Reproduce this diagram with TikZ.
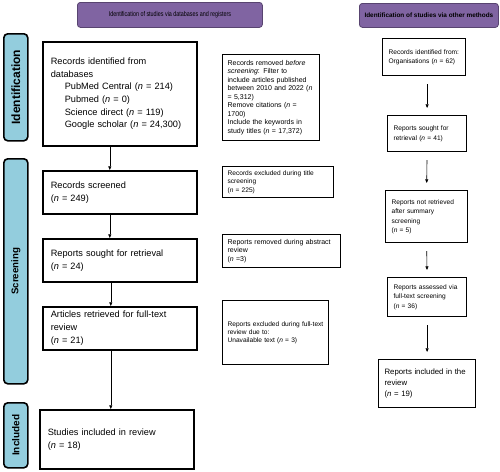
\documentclass[tikz,border=0pt]{standalone}
\usepackage{fontspec}
\setmainfont{Liberation Sans}
\usetikzlibrary{arrows.meta}

\definecolor{headpurple}{RGB}{128,100,162}
\definecolor{headedge}{RGB}{88,68,112}
\definecolor{stageblue}{RGB}{147,205,221}

\begin{document}
\begin{tikzpicture}[x=1pt,y=-1pt,
    header/.style={draw=headedge,line width=0.8pt,fill=headpurple,rounded corners=3pt,anchor=north west,inner sep=0pt},
    stage/.style={draw,line width=1.6pt,fill=stageblue,rounded corners=4pt,anchor=north west,inner sep=0pt,minimum width=24pt},
    mainbox/.style={draw,line width=1.6pt,anchor=north west,align=left,inner ysep=0pt,inner xsep=8pt,font=\fontsize{9.2}{12.7}\selectfont},
    sidebox/.style={draw,line width=1.2pt,anchor=north west,align=left,inner ysep=0pt,inner xsep=5pt,font=\fontsize{6.6}{8.3}\selectfont},
    otherbox/.style={draw,line width=1.2pt,anchor=north west,align=left,inner ysep=0pt,inner xsep=6pt,font=\fontsize{6.6}{9.4}\selectfont},
    flow/.style={arrows=-{Triangle[angle=45:4pt]},line width=0.6pt},
    gapflow/.style={flow,shorten <=8pt,shorten >=7pt}]

            % \draw [help lines] (0,0) grid (500,471);
            \useasboundingbox (0,0) rectangle (500,471);

            \path   (77,2) node (h1) [header,minimum width=185pt,minimum height=25pt]
                        {\scalebox{0.77}[1]{\fontsize{7}{8}\selectfont Identification of studies via databases and registers}}
                    (359,3) node (h2) [header,minimum width=139pt,minimum height=24pt]
                        {\fontsize{6.4}{8}\selectfont\bfseries Identification of studies via other methods};

            \path   (3,33) node (s1) [stage,minimum height=107pt]
                        {\rotatebox{90}{\fontsize{12}{14}\selectfont\bfseries Identification}}
                    (3,158) node (s2) [stage,minimum height=225pt]
                        {\rotatebox{90}{\fontsize{9.7}{12}\selectfont\bfseries Screening}}
                    (3,402) node (s3) [stage,minimum height=65pt]
                        {\rotatebox{90}{\fontsize{10}{12}\selectfont\bfseries Included}};

            \path   (42,41) node (l1) [mainbox,minimum width=154pt,minimum height=104pt,text width=138pt]
                        {Records identified from\\databases\\
                         \hspace*{14pt}PubMed Central (\textit{n} = 214)\\
                         \hspace*{14pt}Pubmed (\textit{n} = 0)\\
                         \hspace*{14pt}Science direct (\textit{n} = 119)\\
                         \hspace*{14pt}Google scholar (\textit{n} = 24,300)}
                    (42,170) node (l2) [mainbox,minimum width=154pt,minimum height=43pt,text width=138pt]
                        {Records screened\\(\textit{n} = 249)}
                    (42,238) node (l3) [mainbox,minimum width=154pt,minimum height=43pt,text width=138pt]
                        {Reports sought for retrieval\\(\textit{n} = 24)}
                    (42,306) node (l4) [mainbox,minimum width=154pt,minimum height=43pt,text width=138pt]
                        {Articles retrieved for full-text\\review\\(\textit{n} = 21)}
                    (39,409) node (l5) [mainbox,minimum width=154pt,minimum height=59pt,text width=138pt]
                        {Studies included in review\\(\textit{n} = 18)};

            \path   (222,54) node (m1) [sidebox,minimum width=97pt,minimum height=86pt,text width=87pt,font=\fontsize{7}{8.5}\selectfont]
                        {Records removed \textit{before}\\\textit{screening}: Filter to\\include articles published\\
                         between 2010 and 2022 (\textit{n}\\= 5,312)\\Remove citations (\textit{n} =\\1700)\\
                         Include the keywords in\\study titles (\textit{n} = 17,372)}
                    (222,166) node (m2) [sidebox,minimum width=111pt,minimum height=31pt,text width=101pt]
                        {Records excluded during title\\screening\\(\textit{n} = 225)}
                    (222,234) node (m3) [sidebox,minimum width=118pt,minimum height=33pt,text width=108pt,font=\fontsize{7}{8.3}\selectfont]
                        {Reports removed during abstract\\review\\(\textit{n} =3)}
                    (222,300) node (m4) [sidebox,minimum width=106pt,minimum height=64pt,text width=96pt]
                        {Reports excluded during full-text\\review due to:\\Unavailable text (\textit{n} = 3)};

            \path   (382,38) node (r1) [otherbox,minimum width=83pt,minimum height=37pt,text width=71pt]
                        {Records identified from:\\Organisations (\textit{n} = 62)}
                    (387,115) node (r2) [otherbox,minimum width=79pt,minimum height=36pt,text width=67pt]
                        {Reports sought for\\retrieval (\textit{n} = 41)}
                    (385,190) node (r3) [otherbox,minimum width=82pt,minimum height=52pt,text width=70pt]
                        {Reports not retrieved\\after summary\\screening\\(\textit{n} = 5)}
                    (387,277) node (r4) [otherbox,minimum width=79pt,minimum height=39pt,text width=67pt]
                        {Reports assessed via\\full-text screening\\(\textit{n} = 36)}
                    (378,359) node (r5) [otherbox,minimum width=97pt,minimum height=48pt,text width=85pt,font=\fontsize{7.8}{11}\selectfont]
                        {Reports included in the\\review\\(\textit{n} = 19)};

            \draw [flow] ([xshift=-10pt]l1.south) -- ([xshift=-10pt]l2.north);
            \draw [flow] ([xshift=-10pt]l2.south) -- ([xshift=-10pt]l3.north);
            \draw [flow] ([xshift=-9pt]l3.south) -- ([xshift=-9pt]l4.north);
            \draw [flow] ([xshift=-9pt]l4.south) -- ([xshift=-9pt]l4.south |- l5.north);

            \draw [gapflow] (r1.south -| r2.north) -- (r2.north);
            \draw [gapflow] (r2.south) -- (r3.north);
            \draw [gapflow] (r3.south) -- (r4.north);
            \draw [gapflow] (r4.south) -- (r5.north);

        \end{tikzpicture}
\end{document}
